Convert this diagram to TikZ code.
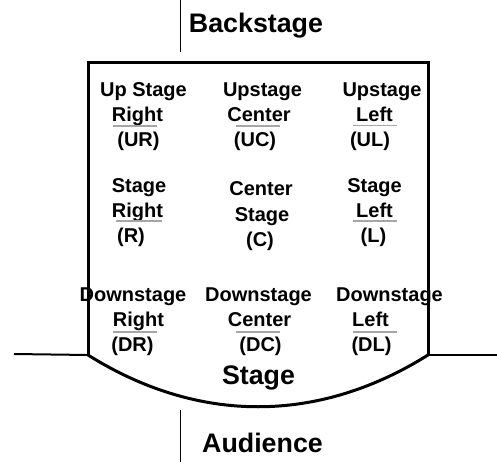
\documentclass[tikz,border=0pt]{standalone}
\usepackage{fontspec}
\setmainfont{Liberation Sans}
\begin{document}
\begin{tikzpicture}[x=1pt,y=-1pt,
  lbl/.style={inner sep=0pt,anchor=base,font=\fontsize{20}{24}\selectfont\bfseries},
  big/.style={inner sep=0pt,anchor=base,font=\fontsize{26.8}{30}\selectfont\bfseries},
  uline/.style={draw=black!35,line width=1.6pt},
  wall/.style={line width=3pt,line join=miter},
  edge/.style={line width=2pt}]
\useasboundingbox (0,0) rectangle (497,462);
% markers
\coordinate (tA) at (180,0);
\coordinate (tB) at (180,52);
\coordinate (bA) at (180,410);
\coordinate (bB) at (180,462);
\draw[line width=1pt] (tA) -- (tB);
\draw[line width=1pt] (bA) -- (bB);
% stage outline
\coordinate (LL) at (88,355);
\coordinate (LT) at (88,63);
\coordinate (RT) at (428,63);
\coordinate (RL) at (428,355);
\coordinate (EL) at (14,354);
\coordinate (ER) at (497,355);
\draw[wall] (LL) -- (LT) -- (RT) -- (RL);
\draw[wall] (LL) .. controls (198,424) and (318,424) .. (RL);
\draw[edge] (EL) -- (LL);
\draw[edge] (RL) -- (ER);
% titles
\node[big] (back) at (256,33) {Backstage};
\node[big] (stg) at (258.5,384) {Stage};
\node[big] (aud) at (262.5,452) {Audience};
% row 1
\node[lbl] (ur1) at (143.5,97) {Up Stage};
\node[lbl] (ur2) at (137.5,122) {Right};
\node[lbl] (ur3) at (138.5,147) {(UR)};
\node[lbl] (uc1) at (262.5,97) {Upstage};
\node[lbl] (uc2) at (259,122) {Center};
\node[lbl] (uc3) at (255,147) {(UC)};
\node[lbl] (ul1) at (382,97) {Upstage};
\node[lbl] (ul2) at (374.5,122) {Left};
\node[lbl] (ul3) at (370,147) {(UL)};
\draw[uline] (113,126) -- (157,126);
\draw[uline] (236,126) -- (280,126);
\draw[uline] (353,125.5) -- (397,125.5);
% row 2
\node[lbl] (r1) at (139,193) {Stage};
\node[lbl] (r2) at (137.5,217) {Right};
\node[lbl] (r3) at (131,242) {(R)};
\node[lbl] (c1) at (261,196) {Center};
\node[lbl] (c2) at (262,221) {Stage};
\node[lbl] (c3) at (260,246) {(C)};
\node[lbl] (l1) at (374.5,193) {Stage};
\node[lbl] (l2) at (374.5,217) {Left};
\node[lbl] (l3) at (373.5,242) {(L)};
\draw[uline] (116,221) -- (162,221);
\draw[uline] (353,221) -- (397,221);
% row 3
\node[lbl] (dr1) at (133,301) {Downstage};
\node[lbl] (dr2) at (138.5,326) {Right};
\node[lbl] (dr3) at (132.5,351) {(DR)};
\node[lbl] (dc1) at (258.5,301) {Downstage};
\node[lbl] (dc2) at (259.5,326) {Center};
\node[lbl] (dc3) at (260.5,351) {(DC)};
\node[lbl] (dl1) at (389.5,301) {Downstage};
\node[lbl] (dl2) at (370.5,326) {Left};
\node[lbl] (dl3) at (371.5,351) {(DL)};
\draw[uline] (113,332) -- (157,332);
\draw[uline] (236,332) -- (280,332);
\draw[uline] (353,332) -- (397,332);
\end{tikzpicture}
\end{document}
